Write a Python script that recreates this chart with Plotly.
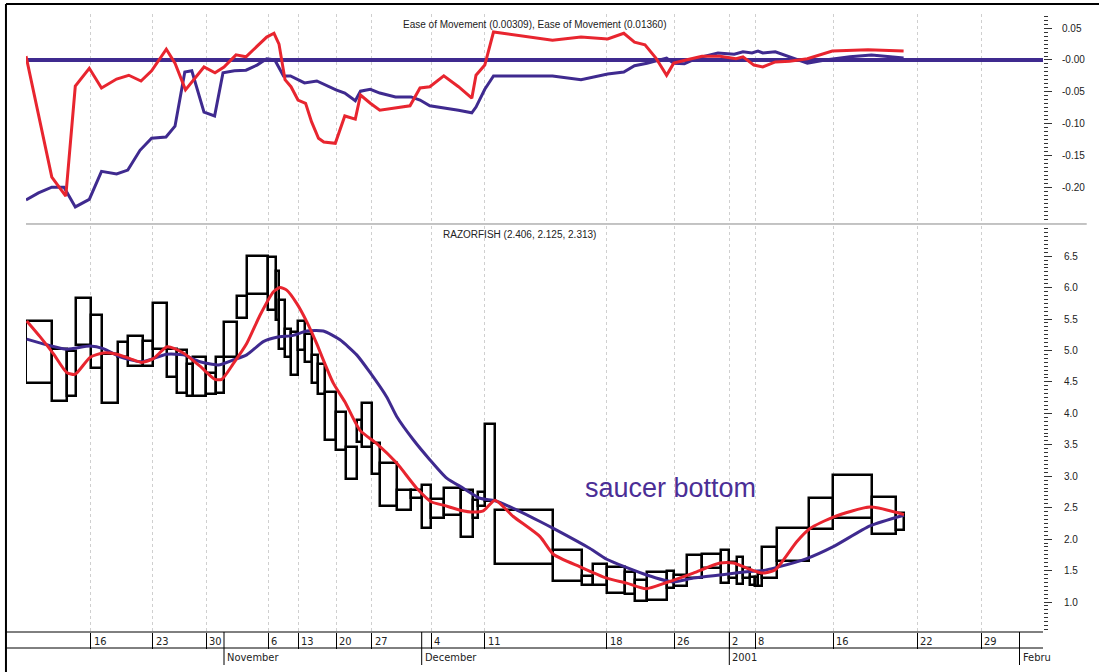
import numpy as np
import plotly.graph_objects as go

# ---------------- data ----------------
# Equivolume boxes (one per trading day, 10 Oct 2000 .. 18 Jan 2001)
volume = [263, 144, 90, 148, 115, 157, 106, 144, 100, 146,
          94, 100, 66, 127, 100, 80, 133, 94, 216, 74,
          33, 60, 60, 73, 67, 67, 63, 70, 113, 97,
          113, 44, 100, 83, 173, 134, 110, 93, 133, 167,
          123, 50, 62, 105, 583, 284, 116, 134, 183, 100,
          117, 200, 73, 127, 150, 193, 83, 72, 68, 67,
          50, 33, 40, 150, 320, 240, 384, 240, 86]
high = [5.47, 5.02, 4.99, 5.84, 5.56, 4.95, 5.14, 5.23, 5.15, 5.76,
        5.02, 5.01, 4.79, 4.89, 4.64, 4.89, 5.46, 5.86, 6.50, 6.48,
        6.27, 5.80, 5.34, 5.30, 5.47, 5.27, 4.93, 4.78, 4.34, 4.03,
        3.47, 3.89, 4.16, 3.53, 3.21, 2.78, 2.78, 2.86, 2.64, 2.82,
        2.78, 2.63, 2.75, 3.83, 2.46, 1.83, 1.41, 1.60, 1.55, 1.48,
        1.35, 1.47, 1.50, 1.43, 1.75, 1.77, 1.83, 1.64, 1.72, 1.54,
        1.40, 1.40, 1.44, 1.87, 2.17, 2.66, 3.02, 2.67, 2.42]
low = [4.48, 4.20, 4.28, 5.09, 4.72, 4.16, 4.90, 4.76, 4.76, 5.02,
       4.58, 4.33, 4.28, 4.28, 4.31, 4.33, 4.90, 5.52, 5.90, 5.64,
       5.48, 5.02, 4.89, 4.61, 5.01, 4.82, 4.48, 4.31, 3.58, 3.41,
       2.95, 3.55, 3.47, 3.03, 2.53, 2.46, 2.65, 2.18, 2.33, 2.39,
       2.03, 2.33, 2.52, 2.61, 1.60, 1.33, 1.27, 1.27, 1.15, 1.12,
       1.02, 1.04, 1.22, 1.26, 1.39, 1.54, 1.30, 1.38, 1.28, 1.38,
       1.27, 1.26, 1.26, 1.38, 1.65, 2.16, 2.33, 2.08, 2.14]
future_day_volume = 128

# moving averages on price (x = cumulative volume)
ma_short_x = [7, 140, 273, 407, 490, 640, 773, 907, 1040, 1157, 1273, 1413, 1573, 1740,
              1890, 1957, 2073, 2207, 2340, 2473, 2540, 2607, 2707, 2807, 2907, 2973,
              3073, 3190, 3340, 3507, 3707, 3907, 4057, 4173, 4340, 4473, 4573, 4690,
              4873, 5140, 5273, 5540, 5807, 6007, 6200, 6407, 6673, 6940, 7073, 7207,
              7357, 7490, 7707, 7840, 8073, 8440, 8780]
ma_short_y = [5.47, 5.22, 4.95, 4.65, 4.62, 4.89, 4.96, 4.94, 4.87, 4.81, 4.87, 5.06, 4.96,
              4.75, 4.54, 4.54, 4.79, 5.11, 5.56, 5.93, 6.00, 5.96, 5.75, 5.46, 5.11, 4.85,
              4.48, 4.18, 3.73, 3.52, 3.21, 2.81, 2.59, 2.54, 2.46, 2.43, 2.45, 2.62, 2.36,
              2.04, 1.76, 1.56, 1.38, 1.30, 1.21, 1.31, 1.46, 1.62, 1.62, 1.54, 1.46, 1.51,
              1.96, 2.17, 2.35, 2.51, 2.39]
ma_long_x = [7, 207, 407, 640, 773, 940, 1157, 1407, 1573, 1740, 1923, 2073, 2207, 2373,
             2507, 2673, 2807, 2973, 3140, 3307, 3440, 3607, 3707, 3873, 4040, 4207, 4373,
             4540, 4690, 4873, 5140, 5273, 5640, 5807, 6207, 6473, 6673, 6940, 7207, 7373,
             7507, 7807, 8073, 8440, 8780]
ma_long_y = [5.18, 5.09, 5.02, 5.07, 5.03, 4.90, 4.82, 4.94, 4.93, 4.82, 4.77, 4.85, 4.93,
             5.14, 5.21, 5.24, 5.31, 5.31, 5.17, 4.93, 4.65, 4.26, 3.95, 3.58, 3.26, 2.97,
             2.81, 2.65, 2.61, 2.49, 2.28, 2.17, 1.85, 1.68, 1.43, 1.32, 1.38, 1.43, 1.48,
             1.50, 1.55, 1.69, 1.88, 2.21, 2.38]

# Ease of Movement (two smoothings)
eom_a_x = [0, 125, 258, 380, 493, 633, 755, 906, 1018, 1140, 1256, 1400, 1490, 1588, 1658,
           1780, 1886, 1970, 2085, 2200, 2310, 2407, 2488, 2575, 2645, 2785, 2908, 3013,
           3100, 3188, 3293, 3345, 3443, 3538, 3695, 3850, 3940, 4038, 4168, 4325, 4458,
           4500, 4588, 4675, 5265, 5550, 5817, 5978, 6085, 6210, 6406, 6477, 6584, 6709,
           6920, 7083, 7170, 7260, 7320, 7368, 7493, 7636, 7814, 7992, 8240, 8455, 8670, 8776]
eom_a_y = [-0.220, -0.209, -0.200, -0.200, -0.231, -0.219, -0.175, -0.179, -0.173, -0.142,
           -0.123, -0.121, -0.104, -0.019, -0.017, -0.082, -0.088, -0.020, -0.017, -0.016,
           -0.008, 0.002, 0.000, -0.025, -0.025, -0.036, -0.033, -0.041, -0.047, -0.052,
           -0.064, -0.049, -0.046, -0.052, -0.058, -0.058, -0.063, -0.072, -0.075, -0.079,
           -0.083, -0.074, -0.046, -0.025, -0.025, -0.031, -0.022, -0.019, -0.009, -0.005,
           0.003, -0.005, -0.006, 0.003, 0.011, 0.009, 0.013, 0.011, 0.014, 0.011, 0.013,
           0.005, -0.005, 0.000, 0.005, 0.008, 0.005, 0.003]
eom_b_x = [0, 258, 398, 493, 633, 755, 906, 1028, 1150, 1256, 1403, 1490, 1595, 1780, 1890,
           1980, 2100, 2200, 2407, 2480, 2530, 2590, 2650, 2720, 2796, 2855, 2925, 2978,
           3093, 3188, 3293, 3345, 3443, 3538, 3840, 3940, 4038, 4178, 4325, 4458, 4500,
           4588, 4675, 5265, 5550, 5817, 5978, 6085, 6190, 6299, 6406, 6477, 6600, 6760,
           6940, 7100, 7170, 7279, 7368, 7493, 7636, 7814, 8063, 8420, 8776]
eom_b_y = [0.006, -0.184, -0.214, -0.041, -0.013, -0.044, -0.030, -0.024, -0.033, -0.017,
           0.017, -0.005, -0.047, -0.011, -0.020, -0.011, 0.008, 0.005, 0.036, 0.042, 0.025,
           -0.031, -0.042, -0.063, -0.068, -0.097, -0.123, -0.129, -0.131, -0.088, -0.093,
           -0.055, -0.068, -0.079, -0.072, -0.044, -0.042, -0.025, -0.042, -0.060, -0.024,
           -0.008, 0.044, 0.031, 0.036, 0.033, 0.042, 0.028, 0.024, 0.003, -0.024, -0.005,
           0.000, 0.006, 0.006, 0.002, 0.005, -0.008, -0.011, -0.003, -0.002, 0.002, 0.014,
           0.016, 0.014]

# date axis: labels and the trading-day index at which they fall
day_tick_labels = ["16", "23", "30", "6", "13", "20", "27", "4", "11", "18", "26",
                   "2", "8", "16", "22", "29"]
day_tick_index = [4, 9, 14, 19, 24, 29, 33, 38, 43, 48, 53, 57, 61, 66, 70, 75]
month_labels = ["November", "December", "2001", "Febru"]
month_index = [16, 37, 57, 78]

top_title = "Ease of Movement (0.00309), Ease of Movement (0.01360)"
bottom_title = "RAZORFISH (2.406, 2.125, 2.313)"
note_text = "saucer bottom"
note_pos = (5570, 2.81)

# ---------------- derived ----------------
vol = np.array(volume, dtype=float)
right_edge = np.cumsum(vol)
left_edge = right_edge - vol
centers = left_edge + vol / 2
total = right_edge[-1]


def pos_of(i):
    if i < len(vol):
        return float(left_edge[i])
    return float(total + (i - len(vol)) * future_day_volume)


day_tick_pos = [pos_of(i) for i in day_tick_index]
month_pos = [pos_of(i) for i in month_index]

PURPLE = "#3f2a8f"
RED = "#e8252f"
XMAX = 10170

fig = go.Figure()

# top panel
fig.add_trace(go.Scatter(x=eom_a_x, y=eom_a_y, mode="lines", xaxis="x", yaxis="y",
                         line=dict(color=PURPLE, width=3), hoverinfo="skip"))
fig.add_trace(go.Scatter(x=eom_b_x, y=eom_b_y, mode="lines", xaxis="x", yaxis="y",
                         line=dict(color=RED, width=3), hoverinfo="skip"))

# bottom panel: equivolume boxes
fig.add_trace(go.Bar(x=centers, width=vol, base=low,
                     y=np.array(high) - np.array(low), xaxis="x2", yaxis="y2",
                     marker=dict(color="rgba(0,0,0,0)", line=dict(color="black", width=2.5)),
                     hoverinfo="skip"))
fig.add_trace(go.Scatter(x=ma_long_x, y=ma_long_y, mode="lines", xaxis="x2", yaxis="y2",
                         line=dict(color=PURPLE, width=3, shape="spline", smoothing=0.6),
                         hoverinfo="skip"))
fig.add_trace(go.Scatter(x=ma_short_x, y=ma_short_y, mode="lines", xaxis="x2", yaxis="y2",
                         line=dict(color=RED, width=3, shape="spline", smoothing=0.6),
                         hoverinfo="skip"))

grid = dict(showgrid=True, gridcolor="#cfcfcf", griddash="dot", gridwidth=1)
xcommon = dict(range=[0, XMAX], tickmode="array", tickvals=day_tick_pos,
               showticklabels=False, zeroline=False, domain=[0, 1], **grid)

fig.update_layout(
    width=1099, height=672, autosize=False,
    margin=dict(l=26, r=56, t=14, b=40),
    paper_bgcolor="white", plot_bgcolor="white",
    showlegend=False, bargap=0,
    font=dict(family="Liberation Sans, Arial, sans-serif", size=10, color="#222"),
    xaxis=dict(anchor="y", ticks="", **xcommon),
    xaxis2=dict(anchor="y2", matches="x", ticks="outside", ticklen=16, tickwidth=1,
                tickcolor="black", showline=False, **xcommon),
    yaxis=dict(domain=[0.6634, 1.0], range=[-0.2547, 0.0723], side="right", anchor="x",
               tickmode="array", tickvals=[0.05, 0, -0.05, -0.10, -0.15, -0.20],
               ticktext=["0.05", "-0.00", "-0.05", "-0.10", "-0.15", "-0.20"],
               ticks="outside", ticklen=8, tickwidth=1, tickcolor="#333",
               ticklabelstandoff=8,
               showgrid=False, zeroline=True, zerolinecolor=PURPLE, zerolinewidth=4,
               minor=dict(tickmode="linear", tick0=0, dtick=0.00625, ticks="outside",
                          ticklen=4, tickcolor="#333", showgrid=False),
               tickfont=dict(size=10, color="#222")),
    yaxis2=dict(domain=[0, 0.657], range=[0.523, 6.98], side="right", anchor="x2",
                tickmode="linear", tick0=1, dtick=0.5, tickformat=".1f",
                ticks="outside", ticklen=8, tickwidth=1, tickcolor="#333",
                ticklabelstandoff=10,
                showgrid=False, zeroline=False,
                minor=dict(tickmode="linear", tick0=1, dtick=0.0625, ticks="outside",
                           ticklen=4, tickcolor="#333", showgrid=False),
                tickfont=dict(size=10, color="#222")),
)

shapes = []
# frame, panel separator, axis rows
shapes.append(dict(type="line", xref="paper", yref="paper", x0=-0.0197, x1=-0.0197,
                   y0=-0.066, y1=1.0162, line=dict(color="black", width=2)))
shapes.append(dict(type="line", xref="paper", yref="paper", x0=-0.0197, x1=1.06,
                   y0=1.0162, y1=1.0162, line=dict(color="black", width=2)))
shapes.append(dict(type="line", xref="paper", yref="paper", x0=0, x1=1.043,
                   y0=0.6602, y1=0.6602, line=dict(color="#888", width=1)))
for yy in (0, -0.0259):
    shapes.append(dict(type="line", xref="paper", yref="paper", x0=-0.0197, x1=1.0,
                       y0=yy, y1=yy, line=dict(color="black", width=1)))
for mp in month_pos:
    shapes.append(dict(type="line", xref="x2", yref="paper", x0=mp, x1=mp,
                       y0=0, y1=-0.0534, line=dict(color="black", width=1)))
fig.update_layout(shapes=shapes)

ann = []
for lab, p in zip(day_tick_labels, day_tick_pos):
    ann.append(dict(x=p, y=-0.0146, xref="x2", yref="paper", text=lab, showarrow=False,
                    xanchor="left", yanchor="middle", xshift=1,
                    font=dict(family="Liberation Sans Narrow, DejaVu Sans Condensed, sans-serif",
                              size=11, color="#222")))
for lab, p in zip(month_labels, month_pos):
    ann.append(dict(x=p, y=-0.0405, xref="x2", yref="paper", text=lab, showarrow=False,
                    xanchor="left", yanchor="middle", xshift=1,
                    font=dict(family="Liberation Sans Narrow, DejaVu Sans Condensed, sans-serif",
                              size=11, color="#222")))
ann.append(dict(x=0.5, y=0.9838, xref="paper", yref="paper", text=top_title,
                showarrow=False, xanchor="center", yanchor="middle",
                font=dict(size=10, color="#222")))
ann.append(dict(x=0.485, y=0.644, xref="paper", yref="paper", text=bottom_title,
                showarrow=False, xanchor="center", yanchor="middle",
                font=dict(size=10, color="#222")))
ann.append(dict(x=note_pos[0], y=note_pos[1], xref="x2", yref="y2", text=note_text,
                showarrow=False, xanchor="left", yanchor="middle",
                font=dict(family="Liberation Sans, Arial, sans-serif", size=27,
                          color="#4b2e96")))
fig.update_layout(annotations=ann)

fig.write_html("out.html",
               config={"displayModeBar": False},
               post_script="document.body.style.margin='0px';"
                           "document.body.style.overflow='hidden';")
